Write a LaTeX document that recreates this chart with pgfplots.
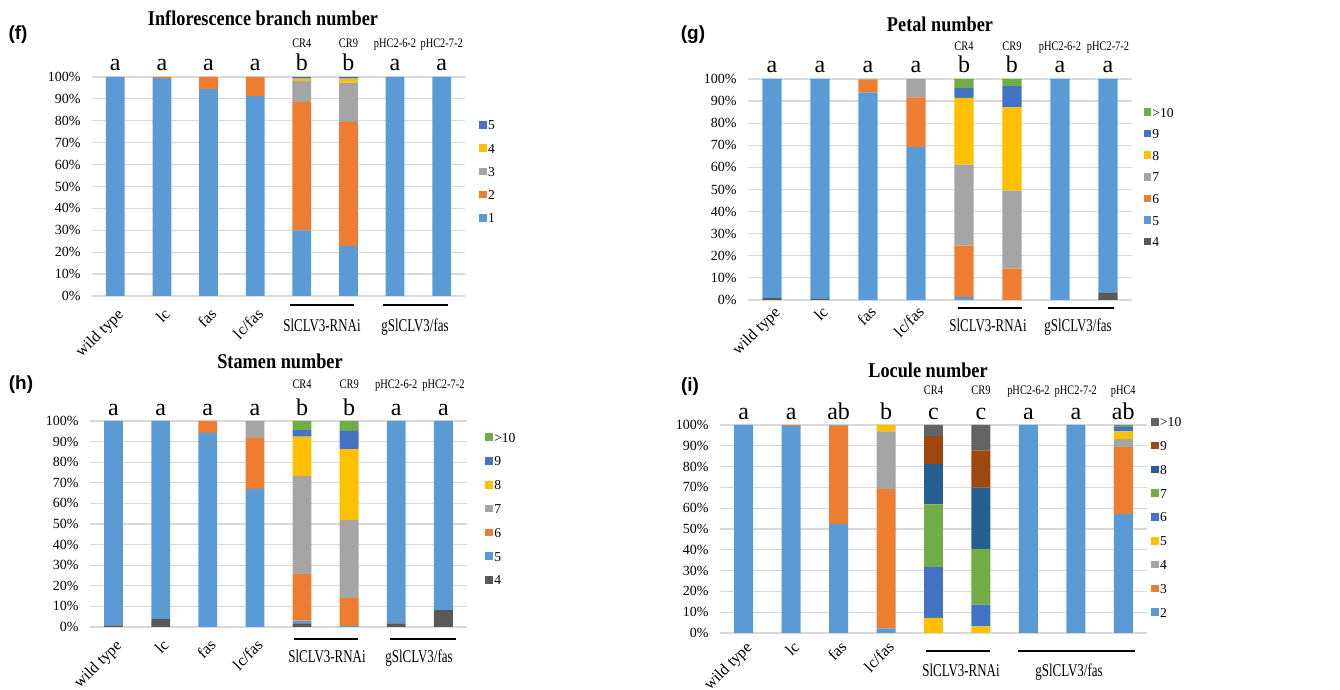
\documentclass[border=0pt]{standalone}
\usepackage{fontspec}
\setmainfont{Liberation Serif}
\newfontfamily\condfont[FakeStretch=0.72]{Liberation Serif}
\newfontfamily\crfamily[FakeStretch=0.8]{Liberation Serif}
\newfontfamily\titlefont[FakeStretch=0.87]{Liberation Serif}
\newfontfamily\panelfont{Liberation Sans}
\usepackage{pgfplots}
\usepackage{pgfplotstable}
\pgfplotsset{compat=1.18}

\definecolor{cblue}{HTML}{5B9BD5}
\definecolor{corange}{HTML}{ED7D31}
\definecolor{cgray}{HTML}{A5A5A5}
\definecolor{cyellow}{HTML}{FFC000}
\definecolor{cdblue}{HTML}{4472C4}
\definecolor{cgreen}{HTML}{70AD47}
\definecolor{cnavy}{HTML}{255E91}
\definecolor{cbrown}{HTML}{9E480E}
\definecolor{cdgray}{HTML}{636363}
\definecolor{cdgrayb}{HTML}{595959}
\definecolor{gridc}{HTML}{D9D9D9}

% Inflorescence branch number: 1..5
\pgfplotstableread{
x  a     b     c     d    e
0  100   0     0     0    0
1  99.5  0.5   0     0    0
2  94.5  5.5   0     0    0
3  91.3  8.7   0     0    0
4  30.0  58.6  9.6   1.0  0.8
5  22.9  56.6  17.9  1.8  0.8
6  100   0     0     0    0
7  100   0     0     0    0
}\datf

% Petal number: 4,5,6,7,8,9,>10
\pgfplotstableread{
x  a    b     c     d     e     f    g
0  0.8  99.2  0     0     0     0    0
1  0.5  99.5  0     0     0     0    0
2  0    94.0  5.7   0.3   0     0    0
3  0    69.3  22.4  8.3   0     0    0
4  0    1.4   23.2  36.6  30.3  4.4  4.1
5  0    0     14.2  35.3  37.7  9.6  3.2
6  0    100   0     0     0     0    0
7  3.5  96.5  0     0     0     0    0
}\datg

% Stamen number: 4,5,6,7,8,9,>10
\pgfplotstableread{
x  a    b     c     d     e     f    g
0  0.8  99.2  0     0     0     0    0
1  4.0  96.0  0     0     0     0    0
2  0    94.2  5.8   0     0     0    0
3  0    67.0  24.8  8.2   0     0    0
4  1.7  1.4   22.6  47.6  19.1  3.2  4.4
5  0    0.5   13.6  37.8  34.5  8.8  4.8
6  1.8  98.2  0     0     0     0    0
7  8.2  91.8  0     0     0     0    0
}\dath

% Locule number: 2,3,4,5,6,7,8,9,>10
\pgfplotstableread{
x  a     b     c     d    e     f     g     h     i
0  100   0     0     0    0     0     0     0     0
1  99.4  0.6   0     0    0     0     0     0     0
2  52.5  47.0  0.5   0    0     0     0     0     0
3  2.2   67.1  27.6  3.1  0     0     0     0     0
4  0     0     0     7.3  24.4  30.1  19.4  13.4  5.4
5  0     0     0     3.2  10.4  26.9  29.4  17.9  12.2
6  100   0     0     0    0     0     0     0     0
7  100   0     0     0    0     0     0     0     0
8  57.1  32.3  3.9   3.6  2.2   0.6   0.3   0     0
}\dati

\newcommand\abfont{\fontsize{12}{12}\selectfont}
\newcommand\crfont{\crfamily\fontsize{6.5}{7}\selectfont}

\pgfplotsset{
  panel/.style={
    scale only axis, anchor=south west,
    ybar stacked, bar width=0.4,
    ymin=0, ymax=100, ytick={0,10,...,100},
    yticklabel={\pgfmathparse{int(round(\tick))}\pgfmathresult\%},
    yticklabel style={font=\fontsize{7}{8}\selectfont, anchor=east, inner sep=0pt, xshift=-5.5pt},
    xtick={0,1,2,3}, xticklabels={wild type,lc,fas,lc/fas},
    ymajorgrids, grid style={gridc, line width=0.6pt},
    axis line style={draw=none}, major tick length=0pt, tick style={draw=none},
    clip=false,
    reverse legend,
    legend cell align=left,
    legend image code/.code={\fill[##1] (0pt,-1.9pt) rectangle (3.8pt,1.9pt);},
    legend style={draw=none, fill=none, font=\fontsize{6.8}{7}\selectfont, anchor=west,
      inner sep=0pt, nodes={inner sep=0.6pt, text height=5pt, text depth=0pt},
      /tikz/every even column/.append style={column sep=0.8pt}},
  },
  rotlab/.style={xticklabel style={font=\fontsize{8}{9}\selectfont, xshift=0.5pt, yshift=#1,
      rotate=45, anchor=north east, inner sep=0pt}},
  bar/.style={fill=#1, draw=none},
}

\begin{document}
\begin{tikzpicture}
\path[use as bounding box] (0,0) rectangle (670pt,345pt);

% ---------------- (f) ----------------
\begin{axis}[panel, at={(46pt,197pt)}, width=186.5pt, height=109.5pt,
  xmin=-0.5, xmax=7.5, rotlab=-5.5pt,
  legend style={at={(axis description cs:1.037,0.569)}, row sep=5.4pt}]
\addplot[bar=cblue]   table[x=x,y=a]{\datf};
\addplot[bar=corange] table[x=x,y=b]{\datf};
\addplot[bar=cgray]   table[x=x,y=c]{\datf};
\addplot[bar=cyellow] table[x=x,y=d]{\datf};
\addplot[bar=cdblue]  table[x=x,y=e]{\datf};
\legend{1,2,3,4,5}
\node[font=\abfont, anchor=base, yshift=3pt] at (axis cs:0,100) {a};
\node[font=\abfont, anchor=base, yshift=3pt] at (axis cs:1,100) {a};
\node[font=\abfont, anchor=base, yshift=3pt] at (axis cs:2,100) {a};
\node[font=\abfont, anchor=base, yshift=3pt] at (axis cs:3,100) {a};
\node[font=\abfont, anchor=base, yshift=3pt] at (axis cs:4,100) {b};
\node[font=\abfont, anchor=base, yshift=3pt] at (axis cs:5,100) {b};
\node[font=\abfont, anchor=base, yshift=3pt] at (axis cs:6,100) {a};
\node[font=\abfont, anchor=base, yshift=3pt] at (axis cs:7,100) {a};
\node[font=\crfont, anchor=base, yshift=14.5pt] at (axis cs:4,100) {CR4};
\node[font=\crfont, anchor=base, yshift=14.5pt] at (axis cs:5,100) {CR9};
\node[font=\crfont, anchor=base, yshift=14.5pt] at (axis cs:6,100) {pHC2-6-2};
\node[font=\crfont, anchor=base, yshift=14.5pt] at (axis cs:7,100) {pHC2-7-2};
\end{axis}

% ---------------- (g) ----------------
\begin{axis}[panel, at={(374pt,195pt)}, width=192pt, height=110.5pt,
  xmin=-0.5, xmax=7.5, rotlab=-2.5pt,
  legend style={at={(axis description cs:1.029,0.557)}, row sep=4.6pt}]
\addplot[bar=cdgrayb] table[x=x,y=a]{\datg};
\addplot[bar=cblue]   table[x=x,y=b]{\datg};
\addplot[bar=corange] table[x=x,y=c]{\datg};
\addplot[bar=cgray]   table[x=x,y=d]{\datg};
\addplot[bar=cyellow] table[x=x,y=e]{\datg};
\addplot[bar=cdblue]  table[x=x,y=f]{\datg};
\addplot[bar=cgreen]  table[x=x,y=g]{\datg};
\legend{4,5,6,7,8,9,>10}
\node[font=\abfont, anchor=base, yshift=3pt] at (axis cs:0,100) {a};
\node[font=\abfont, anchor=base, yshift=3pt] at (axis cs:1,100) {a};
\node[font=\abfont, anchor=base, yshift=3pt] at (axis cs:2,100) {a};
\node[font=\abfont, anchor=base, yshift=3pt] at (axis cs:3,100) {a};
\node[font=\abfont, anchor=base, yshift=3pt] at (axis cs:4,100) {b};
\node[font=\abfont, anchor=base, yshift=3pt] at (axis cs:5,100) {b};
\node[font=\abfont, anchor=base, yshift=3pt] at (axis cs:6,100) {a};
\node[font=\abfont, anchor=base, yshift=3pt] at (axis cs:7,100) {a};
\node[font=\crfont, anchor=base, yshift=14pt] at (axis cs:4,100) {CR4};
\node[font=\crfont, anchor=base, yshift=14pt] at (axis cs:5,100) {CR9};
\node[font=\crfont, anchor=base, yshift=14pt] at (axis cs:6,100) {pHC2-6-2};
\node[font=\crfont, anchor=base, yshift=14pt] at (axis cs:7,100) {pHC2-7-2};
\end{axis}

% ---------------- (h) ----------------
\begin{axis}[panel, at={(45pt,31.5pt)}, width=188.5pt, height=103pt,
  xmin=-0.5, xmax=7.5, rotlab=-5.5pt,
  legend style={at={(axis description cs:1.048,0.575)}, row sep=5.7pt}]
\addplot[bar=cdgrayb] table[x=x,y=a]{\dath};
\addplot[bar=cblue]   table[x=x,y=b]{\dath};
\addplot[bar=corange] table[x=x,y=c]{\dath};
\addplot[bar=cgray]   table[x=x,y=d]{\dath};
\addplot[bar=cyellow] table[x=x,y=e]{\dath};
\addplot[bar=cdblue]  table[x=x,y=f]{\dath};
\addplot[bar=cgreen]  table[x=x,y=g]{\dath};
\legend{4,5,6,7,8,9,>10}
\node[font=\abfont, anchor=base, yshift=2.6pt] at (axis cs:0,100) {a};
\node[font=\abfont, anchor=base, yshift=2.6pt] at (axis cs:1,100) {a};
\node[font=\abfont, anchor=base, yshift=2.6pt] at (axis cs:2,100) {a};
\node[font=\abfont, anchor=base, yshift=2.6pt] at (axis cs:3,100) {a};
\node[font=\abfont, anchor=base, yshift=2.6pt] at (axis cs:4,100) {b};
\node[font=\abfont, anchor=base, yshift=2.6pt] at (axis cs:5,100) {b};
\node[font=\abfont, anchor=base, yshift=2.6pt] at (axis cs:6,100) {a};
\node[font=\abfont, anchor=base, yshift=2.6pt] at (axis cs:7,100) {a};
\node[font=\crfont, anchor=base, yshift=16pt] at (axis cs:4,100) {CR4};
\node[font=\crfont, anchor=base, yshift=16pt] at (axis cs:5,100) {CR9};
\node[font=\crfont, anchor=base, yshift=16pt] at (axis cs:6,100) {pHC2-6-2};
\node[font=\crfont, anchor=base, yshift=16pt] at (axis cs:7,100) {pHC2-7-2};
\end{axis}

% ---------------- (i) ----------------
\begin{axis}[panel, at={(360pt,28.5pt)}, width=213.5pt, height=104pt,
  xmin=-0.5, xmax=8.5, rotlab=-3.5pt,
  legend style={at={(axis description cs:1.009,0.558)}, row sep=5.7pt}]
\addplot[bar=cblue]   table[x=x,y=a]{\dati};
\addplot[bar=corange] table[x=x,y=b]{\dati};
\addplot[bar=cgray]   table[x=x,y=c]{\dati};
\addplot[bar=cyellow] table[x=x,y=d]{\dati};
\addplot[bar=cdblue]  table[x=x,y=e]{\dati};
\addplot[bar=cgreen]  table[x=x,y=f]{\dati};
\addplot[bar=cnavy]   table[x=x,y=g]{\dati};
\addplot[bar=cbrown]  table[x=x,y=h]{\dati};
\addplot[bar=cdgray]  table[x=x,y=i]{\dati};
\legend{2,3,4,5,6,7,8,9,>10}
\node[font=\abfont, anchor=base, yshift=2.5pt] at (axis cs:0,100) {a};
\node[font=\abfont, anchor=base, yshift=2.5pt] at (axis cs:1,100) {a};
\node[font=\abfont, anchor=base, yshift=2.5pt] at (axis cs:2,100) {ab};
\node[font=\abfont, anchor=base, yshift=2.5pt] at (axis cs:3,100) {b};
\node[font=\abfont, anchor=base, yshift=2.5pt] at (axis cs:4,100) {c};
\node[font=\abfont, anchor=base, yshift=2.5pt] at (axis cs:5,100) {c};
\node[font=\abfont, anchor=base, yshift=2.5pt] at (axis cs:6,100) {a};
\node[font=\abfont, anchor=base, yshift=2.5pt] at (axis cs:7,100) {a};
\node[font=\abfont, anchor=base, yshift=2.5pt] at (axis cs:8,100) {ab};
\node[font=\crfont, anchor=base, yshift=15pt] at (axis cs:4,100) {CR4};
\node[font=\crfont, anchor=base, yshift=15pt] at (axis cs:5,100) {CR9};
\node[font=\crfont, anchor=base, yshift=15pt] at (axis cs:6,100) {pHC2-6-2};
\node[font=\crfont, anchor=base, yshift=15pt] at (axis cs:7,100) {pHC2-7-2};
\node[font=\crfont, anchor=base, yshift=15pt] at (axis cs:8,100) {pHC4};
\end{axis}

% ---------------- annotations in pixel frame ----------------
\begin{scope}[x=0.5pt, y=0.5pt]
  % titles
  \node[anchor=base, font=\titlefont\bfseries\fontsize{10.5}{11}\selectfont] at (263,664) {Inflorescence branch number};
  \node[anchor=base, font=\titlefont\bfseries\fontsize{10.5}{11}\selectfont] at (940,658) {Petal number};
  \node[anchor=base, font=\titlefont\bfseries\fontsize{10.5}{11}\selectfont] at (280,321) {Stamen number};
  \node[anchor=base, font=\titlefont\bfseries\fontsize{10.5}{11}\selectfont] at (928,312) {Locule number};
  % panel letters
  \node[font=\panelfont\bfseries\fontsize{9.5}{10}\selectfont] at (18,655) {(f)};
  \node[font=\panelfont\bfseries\fontsize{9.5}{10}\selectfont] at (693,655) {(g)};
  \node[font=\panelfont\bfseries\fontsize{9.5}{10}\selectfont] at (21,305) {(h)};
  \node[font=\panelfont\bfseries\fontsize{9.5}{10}\selectfont] at (690,303) {(i)};
  % group lines and labels
  \begin{scope}[line width=1pt]
    \draw (290,385) -- (354,385);  \draw (383,385) -- (448,385);
    \draw (958,382) -- (1022,382); \draw (1048,382) -- (1114,382);
    \draw (294,51) -- (358,51);    \draw (390,51) -- (456,51);
    \draw (926,39) -- (990,39);    \draw (1018,39) -- (1135,39);
  \end{scope}
  \begin{scope}[every node/.style={anchor=base, font=\condfont\fontsize{9}{10}\selectfont}]
    \node at (322,358) {SlCLV3-RNAi};  \node at (415,358) {gSlCLV3/fas};
    \node at (988,358) {SlCLV3-RNAi};  \node at (1078,358) {gSlCLV3/fas};
    \node at (327,27) {SlCLV3-RNAi};   \node at (419,27) {gSlCLV3/fas};
    \node at (961,13) {SlCLV3-RNAi};   \node at (1069,13) {gSlCLV3/fas};
  \end{scope}
\end{scope}
\end{tikzpicture}
\end{document}
